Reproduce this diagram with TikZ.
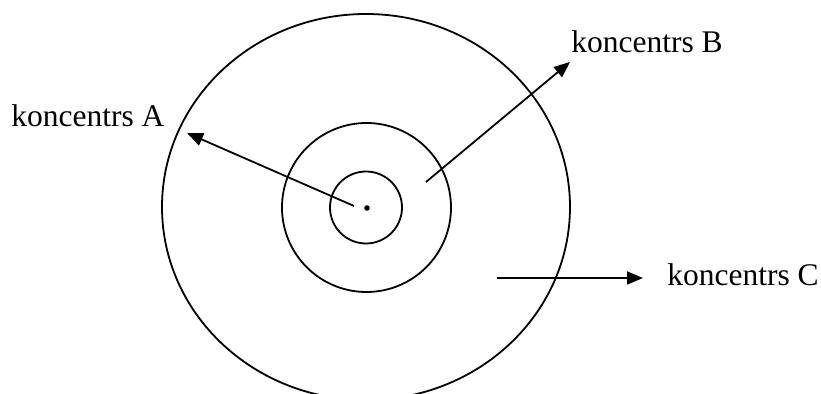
\documentclass[tikz,border=0pt]{standalone}
\usepackage{fontspec}
\setmainfont{Liberation Serif}
\usetikzlibrary{shapes.geometric,arrows.meta}
\begin{document}
\begin{tikzpicture}[x=0.5pt,y=-0.5pt,
  ring/.style={draw=black,line width=0.9pt,inner sep=0pt,outer sep=0pt},
  lbl/.style={anchor=base west,inner sep=0pt,font=\fontsize{15.75}{18}\selectfont},
  arr/.style={line width=0.9pt,-{Triangle[length=8pt,width=6.5pt]}}]
\useasboundingbox (0,0) rectangle (821,394);
\node[ring,ellipse,minimum width=204pt,minimum height=193pt] (outer) at (366,207) {};
\node[ring,circle,minimum size=84.5pt] (middle) at (366.5,207.5) {};
\node[ring,circle,minimum size=36pt] (inner) at (366,207.5) {};
\fill (367,208) circle (1.4pt);
\node[lbl] (la) at (11,127) {koncentrs A};
\node[lbl] (lb) at (571,53) {koncentrs B};
\node[lbl] (lc) at (667,286) {koncentrs C};
\coordinate (sa) at (354,206);
\coordinate (ta) at (187,133);
\coordinate (sb) at (426,182);
\coordinate (tb) at (570,62);
\coordinate (sc) at (497,278);
\coordinate (tc) at (643,278);
\draw[arr] (sa) -- (ta);
\draw[arr] (sb) -- (tb);
\draw[arr] (sc) -- (tc);
\end{tikzpicture}
\end{document}
